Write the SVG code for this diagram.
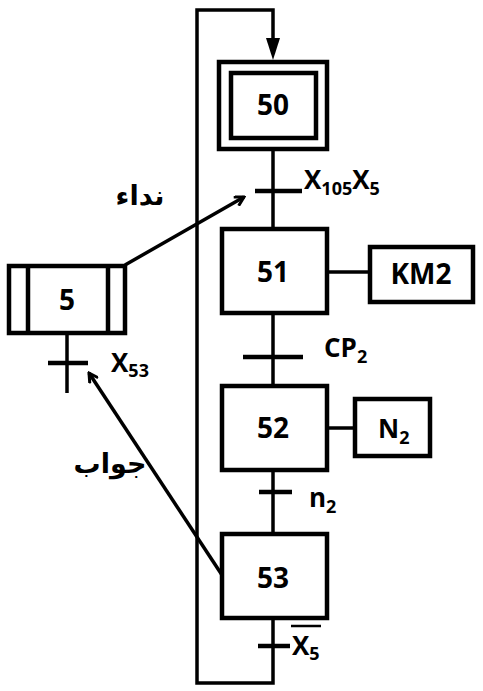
<svg xmlns="http://www.w3.org/2000/svg" width="483" height="691" viewBox="0 0 483 691">
<style>
.box{fill:none;stroke:#000;stroke-width:4.5}
.ln{fill:none;stroke:#000;stroke-width:3.5}
.tr{fill:none;stroke:#000;stroke-width:4.5}
.t{font-family:"Open Sans","Liberation Sans",sans-serif;font-weight:bold;fill:#000}
.num{font-size:28px;text-anchor:middle}
.lab{font-size:26px}
.sub{font-size:18px}
.ar{font-family:"DejaVu Sans","Noto Sans",sans-serif;font-weight:bold;font-size:27px;fill:#000;text-anchor:middle}
</style>
<defs>
<marker id="ah" markerWidth="12" markerHeight="12" refX="10" refY="6" orient="auto" markerUnits="userSpaceOnUse" viewBox="0 0 12 12">
<path d="M1,1 L10,6 L1,11" fill="none" stroke="#000" stroke-width="3"/>
</marker>
</defs>
<g id="connectors">
<path class="ln" d="M273,618 V683 H197 V10 H273 V48" />
<path d="M266,38 L280,38 L273,60 Z" fill="#000"/>
<line class="ln" x1="273" y1="150" x2="273" y2="228"/>
<line class="ln" x1="273" y1="313" x2="273" y2="385"/>
<line class="ln" x1="273" y1="470" x2="273" y2="533"/>
<line class="ln" x1="327" y1="272" x2="370" y2="272"/>
<line class="ln" x1="327" y1="428" x2="355" y2="428"/>
<line class="ln" x1="67" y1="333" x2="67" y2="393"/>
<line class="ln" x1="125" y1="265" x2="244" y2="197" marker-end="url(#ah)"/>
<line class="ln" x1="222" y1="575" x2="89" y2="373" marker-end="url(#ah)"/>
<line class="tr" x1="255" y1="191" x2="302" y2="191"/>
<line class="tr" x1="243" y1="357" x2="303" y2="357"/>
<line class="tr" x1="259" y1="492" x2="292" y2="492"/>
<line class="tr" x1="258" y1="646" x2="290" y2="646"/>
<line class="tr" x1="48" y1="363" x2="88" y2="363"/>
</g>
<g id="step50">
<rect class="box" x="219" y="62" width="108" height="87"/>
<rect class="box" x="231" y="73" width="85" height="65"/>
<text class="t num" x="273" y="115">50</text>
</g>
<g id="step51">
<rect class="box" x="222" y="229" width="105" height="84"/>
<text class="t num" x="273" y="282">51</text>
</g>
<g id="action51">
<rect class="box" x="370" y="247" width="103" height="55"/>
<text class="t num" x="421" y="284">KM2</text>
</g>
<g id="step52">
<rect class="box" x="222" y="386" width="105" height="84"/>
<text class="t num" x="273" y="438">52</text>
</g>
<g id="action52">
<rect class="box" x="355" y="399" width="75" height="57"/>
<text class="t lab" x="378" y="438">N<tspan class="sub" dy="6">2</tspan></text>
</g>
<g id="step53">
<rect class="box" x="222" y="534" width="105" height="84"/>
<text class="t num" x="273" y="588">53</text>
</g>
<g id="step5">
<rect class="box" x="9" y="266" width="116" height="67"/>
<line class="box" x1="28" y1="266" x2="28" y2="333"/>
<line class="box" x1="108" y1="266" x2="108" y2="333"/>
<text class="t num" x="67" y="310">5</text>
</g>
<g id="labels">
<text class="t lab" x="304" y="189">X<tspan class="sub" dy="6">105</tspan><tspan dy="-6">X</tspan><tspan class="sub" dy="6">5</tspan></text>
<text class="t lab" x="324" y="357">CP<tspan class="sub" dy="6">2</tspan></text>
<text class="t lab" x="309" y="507">n<tspan class="sub" dy="6">2</tspan></text>
<text class="t lab" x="292" y="655">X<tspan class="sub" dy="5">5</tspan></text>
<line x1="291" y1="626" x2="321" y2="626" stroke="#000" stroke-width="2.5"/>
<text class="t lab" x="111" y="372">X<tspan class="sub" dy="5">53</tspan></text>
<text class="ar" x="140" y="205">نداء</text>
<text class="ar" x="110" y="473">جواب</text>
</g>
</svg>
